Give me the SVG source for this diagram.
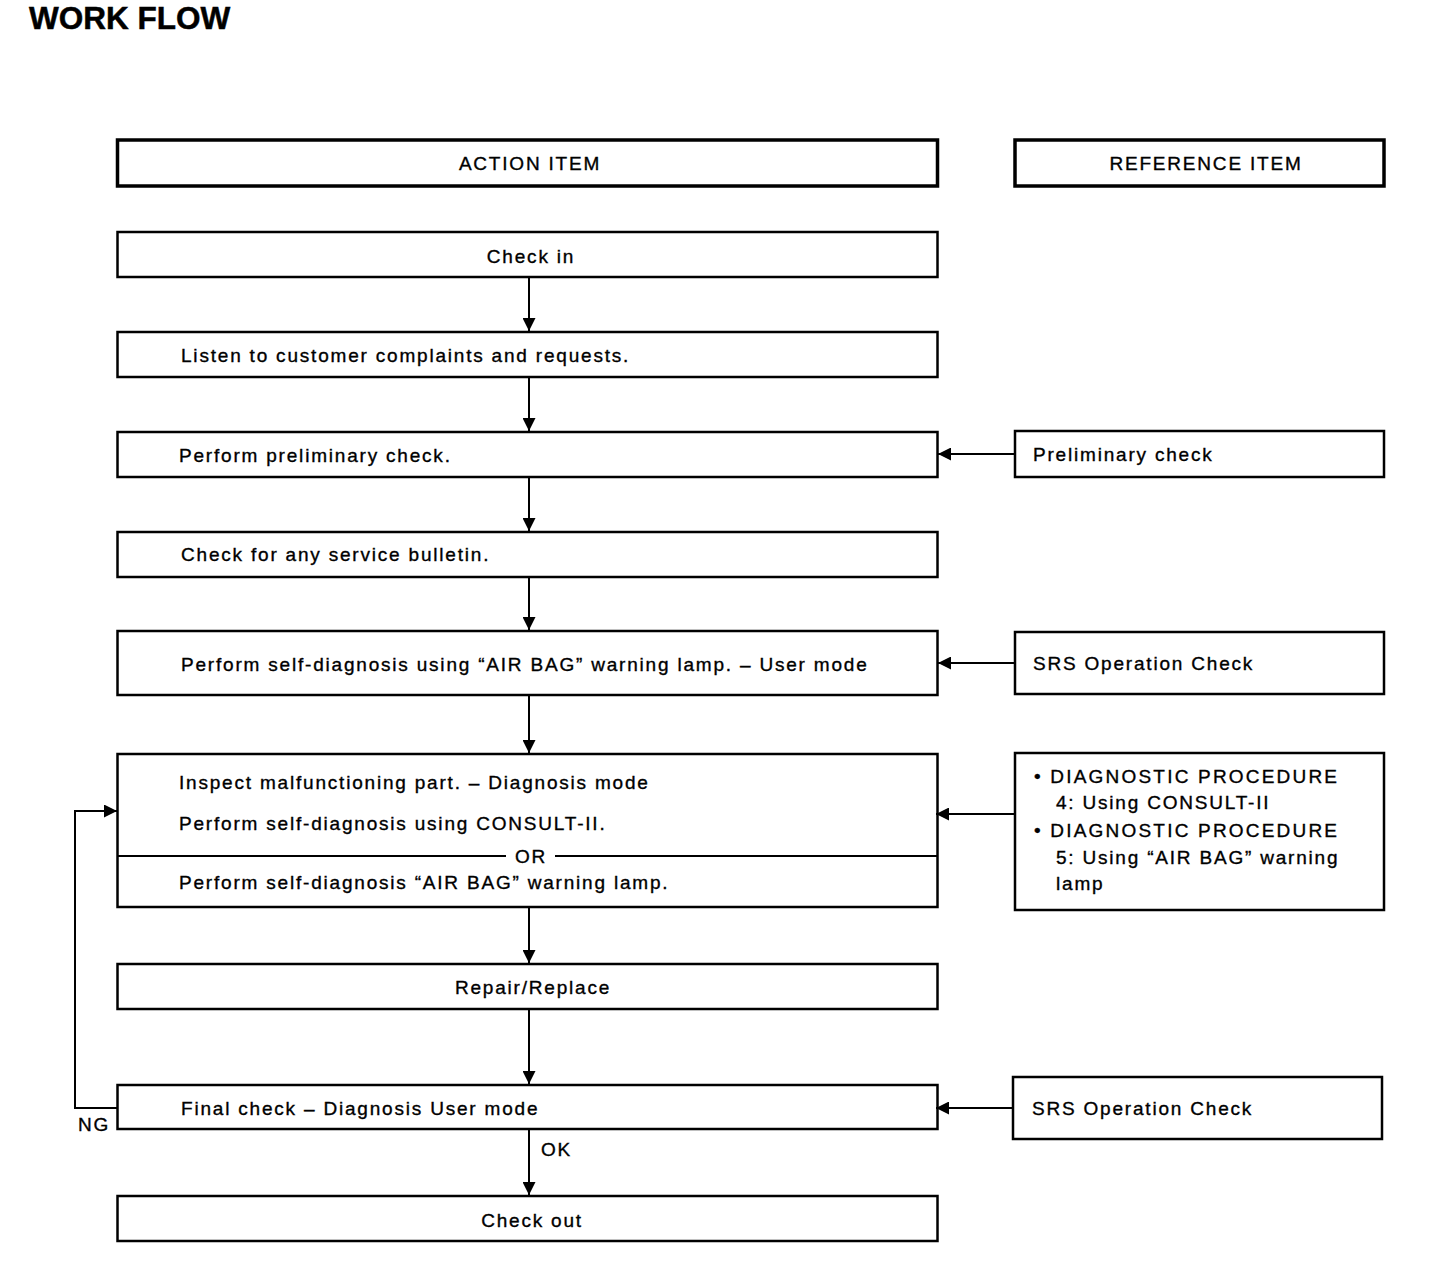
<svg xmlns="http://www.w3.org/2000/svg" width="1440" height="1272" viewBox="0 0 1440 1272">
<style>
text{font-family:"Liberation Sans",Arial,sans-serif;font-size:19px;letter-spacing:1.8px;fill:#000;stroke:#000;stroke-width:0.35}
.title{font-size:31.5px;font-weight:bold;letter-spacing:0;stroke-width:0.5}
.c{text-anchor:middle}
.dg{letter-spacing:2.2px}
.hdr{fill:#fff;stroke:#000;stroke-width:3.5}
.box{fill:#fff;stroke:#000;stroke-width:2.5}
.ln{fill:none;stroke:#000;stroke-width:2}
</style>
<defs>
<marker id="ah" viewBox="0 0 13 13" refX="13" refY="6.5" markerWidth="13" markerHeight="13" markerUnits="userSpaceOnUse" orient="auto">
<path d="M0,0 L13,6.5 L0,13 Z" fill="#000"/>
</marker>
</defs>
<rect width="1440" height="1272" fill="#fff"/>
<text class="title" x="29" y="29">WORK FLOW</text>

<g id="hdr-action"><rect class="hdr" x="117.5" y="140" width="820" height="46"/><text class="c" x="530" y="170">ACTION ITEM</text></g>
<g id="hdr-ref"><rect class="hdr" x="1015" y="140" width="369" height="46"/><text class="c" x="1206" y="170">REFERENCE ITEM</text></g>

<g id="checkin"><rect class="box" x="117.5" y="232" width="820" height="45"/><text class="c" x="531" y="263">Check in</text></g>
<g id="listen"><rect class="box" x="117.5" y="332" width="820" height="45"/><text x="181" y="362">Listen to customer complaints and requests.</text></g>
<g id="prelim"><rect class="box" x="117.5" y="432" width="820" height="45"/><text x="179" y="462">Perform preliminary check.</text></g>
<g id="bulletin"><rect class="box" x="117.5" y="532" width="820" height="45"/><text x="181" y="561">Check for any service bulletin.</text></g>
<g id="selfdiag"><rect class="box" x="117.5" y="631" width="820" height="64"/><text x="181" y="671">Perform self-diagnosis using “AIR BAG” warning lamp. – User mode</text></g>
<g id="inspect"><rect class="box" x="117.5" y="754" width="820" height="153"/>
<text x="179" y="789">Inspect malfunctioning part. – Diagnosis mode</text>
<text x="179" y="830">Perform self-diagnosis using CONSULT-II.</text>
<line class="ln" x1="117.5" y1="856" x2="506" y2="856"/><line class="ln" x1="555" y1="856" x2="937.5" y2="856"/>
<text class="c" x="531" y="863">OR</text>
<text x="179" y="889">Perform self-diagnosis “AIR BAG” warning lamp.</text></g>
<g id="repair"><rect class="box" x="117.5" y="964" width="820" height="45"/><text class="c" x="533" y="994">Repair/Replace</text></g>
<g id="final"><rect class="box" x="117.5" y="1085" width="820" height="44"/><text x="181" y="1115">Final check – Diagnosis User mode</text></g>
<g id="checkout"><rect class="box" x="117.5" y="1196" width="820" height="45"/><text class="c" x="532" y="1227">Check out</text></g>

<g id="ref-prelim"><rect class="box" x="1015" y="431" width="369" height="46"/><text x="1033" y="461">Preliminary check</text></g>
<g id="ref-srs1"><rect class="box" x="1015" y="632" width="369" height="62"/><text x="1033" y="670">SRS Operation Check</text></g>
<g id="ref-diag"><rect class="box" x="1015" y="753" width="369" height="157"/>
<text class="dg" x="1034" y="783">• DIAGNOSTIC PROCEDURE</text>
<text x="1056" y="809">4: Using CONSULT-II</text>
<text class="dg" x="1034" y="837">• DIAGNOSTIC PROCEDURE</text>
<text x="1056" y="864">5: Using “AIR BAG” warning</text>
<text x="1056" y="890">lamp</text></g>
<g id="ref-srs2"><rect class="box" x="1013" y="1077" width="369" height="62"/><text x="1032" y="1115">SRS Operation Check</text></g>

<g id="connectors">
<line class="ln" x1="529" y1="277" x2="529" y2="331" marker-end="url(#ah)"/>
<line class="ln" x1="529" y1="377" x2="529" y2="431" marker-end="url(#ah)"/>
<line class="ln" x1="529" y1="477" x2="529" y2="531" marker-end="url(#ah)"/>
<line class="ln" x1="529" y1="577" x2="529" y2="630" marker-end="url(#ah)"/>
<line class="ln" x1="529" y1="695" x2="529" y2="753" marker-end="url(#ah)"/>
<line class="ln" x1="529" y1="907" x2="529" y2="963" marker-end="url(#ah)"/>
<line class="ln" x1="529" y1="1009" x2="529" y2="1084" marker-end="url(#ah)"/>
<line class="ln" x1="529" y1="1129" x2="529" y2="1195" marker-end="url(#ah)"/>
<line class="ln" x1="1015" y1="454" x2="938" y2="454" marker-end="url(#ah)"/>
<line class="ln" x1="1015" y1="663" x2="938" y2="663" marker-end="url(#ah)"/>
<line class="ln" x1="1015" y1="814" x2="936" y2="814" marker-end="url(#ah)"/>
<line class="ln" x1="1013" y1="1108" x2="936" y2="1108" marker-end="url(#ah)"/>
<polyline class="ln" points="117,1108 75,1108 75,811 117,811" marker-end="url(#ah)"/>
<text x="78" y="1131">NG</text>
<text x="541" y="1156">OK</text>
</g>
</svg>
